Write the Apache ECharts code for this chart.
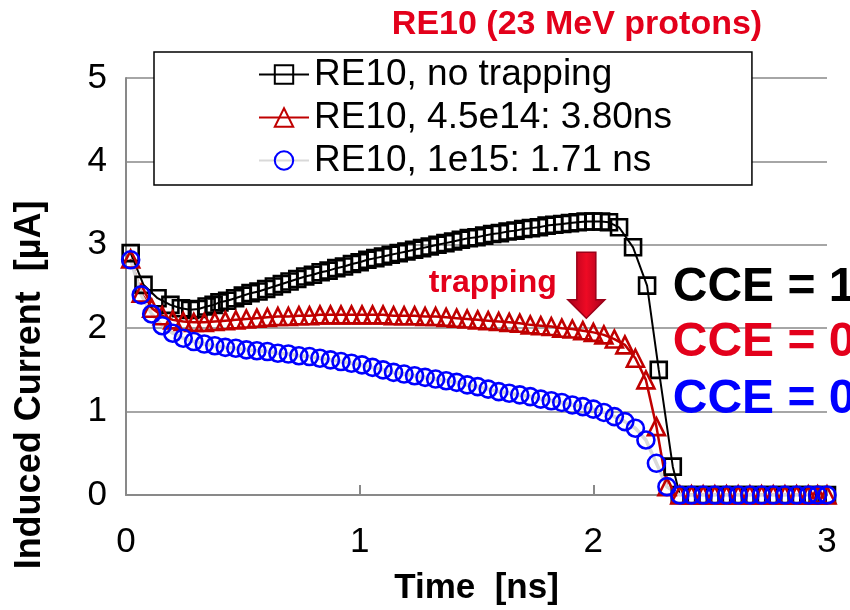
<!DOCTYPE html>
<html><head><meta charset="utf-8">
<script src="https://cdn.jsdelivr.net/npm/echarts@6/dist/echarts.min.js"></script>
<style>html,body{margin:0;padding:0;background:#fff}#c{width:850px;height:610px}</style>
</head><body><div id="c"></div>
<script>
// ---- data ----
const titleText = 'RE10 (23 MeV protons)';
const seriesNames = ['RE10, no trapping', 'RE10, 4.5e14: 3.80ns', 'RE10, 1e15: 1.71 ns'];
const xTicks = [0, 1, 2, 3];
const yTicks = [0, 1, 2, 3, 4, 5];

const tNoTrap = [0.020, 0.075, 0.135, 0.190, 0.235, 0.275, 0.310, 0.345, 0.375,
  0.400, 0.433, 0.467, 0.500, 0.533, 0.567, 0.600, 0.633, 0.667, 0.700,
  0.733, 0.767, 0.800, 0.833, 0.867, 0.900, 0.933, 0.967, 1.000,
  1.033, 1.067, 1.100, 1.133, 1.167, 1.200, 1.233, 1.267, 1.300,
  1.333, 1.367, 1.400, 1.433, 1.467, 1.500, 1.533, 1.567, 1.600,
  1.633, 1.667, 1.700, 1.733, 1.767, 1.800, 1.833, 1.867, 1.900,
  1.933, 1.967, 2.000, 2.033, 2.067,
  2.110, 2.170, 2.230, 2.280, 2.340];
const currNoTrap = [2.90, 2.52, 2.36, 2.28, 2.24, 2.22, 2.23, 2.26, 2.28,
  2.31, 2.33, 2.36, 2.39, 2.42, 2.44, 2.47, 2.50, 2.53, 2.56,
  2.59, 2.62, 2.64, 2.67, 2.69, 2.72, 2.74, 2.77, 2.79,
  2.82, 2.84, 2.86, 2.88, 2.90, 2.92, 2.94, 2.96, 2.98,
  3.00, 3.02, 3.04, 3.06, 3.08, 3.09, 3.11, 3.13, 3.14,
  3.16, 3.17, 3.19, 3.20, 3.21, 3.23, 3.24, 3.25, 3.26,
  3.27, 3.28, 3.28, 3.28, 3.27,
  3.21, 2.97, 2.51, 1.50, 0.34];

const tTrap = [0.020, 0.065, 0.110, 0.155, 0.200, 0.245, 0.290, 0.335, 0.380, 0.425,
  0.470, 0.515, 0.560, 0.605, 0.650, 0.695, 0.740, 0.785, 0.830, 0.875,
  0.920, 0.965, 1.010, 1.055, 1.100, 1.145, 1.190, 1.235, 1.280, 1.325,
  1.370, 1.415, 1.460, 1.505, 1.550, 1.595, 1.640, 1.685, 1.730, 1.775,
  1.820, 1.865, 1.910, 1.955, 2.000, 2.045, 2.090, 2.135, 2.180, 2.225,
  2.270, 2.315];
const curr45e14 = [2.83, 2.42, 2.24, 2.15, 2.10, 2.08, 2.07, 2.07, 2.08, 2.09,
  2.10, 2.11, 2.12, 2.13, 2.14, 2.14, 2.15, 2.15, 2.16, 2.16,
  2.16, 2.16, 2.16, 2.16, 2.16, 2.15, 2.15, 2.15, 2.14, 2.14,
  2.13, 2.12, 2.11, 2.10, 2.09, 2.08, 2.07, 2.06, 2.04, 2.03,
  2.02, 2.00, 1.99, 1.97, 1.95, 1.92, 1.87, 1.80, 1.64, 1.38,
  0.82, 0.10];
const curr1e15 = [2.82, 2.40, 2.17, 2.03, 1.94, 1.88, 1.84, 1.81, 1.79, 1.77,
  1.76, 1.74, 1.73, 1.72, 1.70, 1.69, 1.67, 1.66, 1.64, 1.62,
  1.60, 1.58, 1.56, 1.53, 1.50, 1.47, 1.45, 1.43, 1.41, 1.39,
  1.37, 1.35, 1.32, 1.30, 1.27, 1.24, 1.22, 1.20, 1.18, 1.15,
  1.13, 1.11, 1.08, 1.06, 1.03, 0.99, 0.94, 0.88, 0.80, 0.66,
  0.38, 0.10];

const tTail = [2.37, 2.42, 2.47, 2.52, 2.57, 2.62, 2.67, 2.72, 2.77, 2.82, 2.87, 2.92, 2.96, 3.00];
const tailNoTrap = [0, 0, 0, 0, 0, 0, 0, 0, 0, 0, 0, 0, 0, 0];
const tail45e14 = [0, 0, 0, 0, 0, 0, 0, 0, 0, 0, 0, 0, 0, 0];
const tail1e15 = [0, 0, 0, 0, 0, 0, 0, 0, 0, 0, 0, 0, 0, 0];

// annotations
const trapLabel = 'trapping';
const cceLabels = ['CCE = 1', 'CCE = 0', 'CCE = 0'];
const yAxisTitle = 'Induced Current  [µA]';
const xAxisTitle = 'Time  [ns]';

// ---- chart ----
const FONT = '"Liberation Sans", Arial, Helvetica, sans-serif';
function zip(t, v) { return t.map((x, i) => [x, v[i]]); }

const chart = echarts.init(document.getElementById('c'), null, { renderer: 'canvas' });

function lineSeries(name, data, lineColor, lineWidth, symbol, symColor, size) {
  return {
    name: name, type: 'line', data: data,
    symbol: symbol, symbolSize: size, showSymbol: true, showAllSymbol: true,
    lineStyle: { color: lineColor, width: lineWidth },
    itemStyle: { color: 'rgba(255,255,255,0)', borderColor: symColor, borderWidth: 2.6 },
    emphasis: { disabled: true },
    animation: false
  };
}

chart.setOption({
  animation: false,
  backgroundColor: '#ffffff',
  title: {
    text: titleText, left: 572, top: 3, textAlign: 'center',
    textStyle: { color: '#e3001b', fontSize: 34, fontWeight: 'bold', fontFamily: FONT }
  },
  grid: { left: 126, right: 23, top: 78, bottom: 115, containLabel: false, outerBoundsMode: 'none' },
  legend: {
    orient: 'vertical', left: 154, top: 52,
    backgroundColor: '#ffffff', borderColor: '#000000', borderWidth: 1.5, borderRadius: 0,
    padding: [4, 80, 6, 104],
    itemWidth: 50, itemHeight: 23, itemGap: 6,
    textStyle: { fontSize: 37, color: '#000', fontFamily: FONT, lineHeight: 37 },
    data: seriesNames
  },
  xAxis: {
    type: 'value', min: xTicks[0], max: xTicks[xTicks.length - 1], interval: 1,
    name: xAxisTitle, nameLocation: 'middle', nameGap: 76,
    nameTextStyle: { fontSize: 35, fontWeight: 'bold', color: '#000', fontFamily: FONT },
    axisLine: { lineStyle: { color: '#898989', width: 2 } },
    axisTick: { inside: true, length: 10, lineStyle: { color: '#898989', width: 2 } },
    axisLabel: { fontSize: 35, color: '#000', margin: 30, fontFamily: FONT },
    splitLine: { show: false }
  },
  yAxis: {
    type: 'value', min: yTicks[0], max: yTicks[yTicks.length - 1], interval: 1,
    axisLine: { show: true, lineStyle: { color: '#898989', width: 2 } },
    axisTick: { show: false },
    axisLabel: { fontSize: 35, color: '#000', margin: 19, fontFamily: FONT },
    splitLine: { lineStyle: { color: '#898989', width: 1.5 } }
  },
  series: [
    lineSeries(seriesNames[0], zip(tNoTrap, currNoTrap).concat(zip(tTail, tailNoTrap)), '#000000', 2, 'rect', '#000000', 16),
    lineSeries(seriesNames[1], zip(tTrap, curr45e14).concat(zip(tTail, tail45e14)), '#c00000', 2.5, 'triangle', '#c00000', 17),
    lineSeries(seriesNames[2], zip(tTrap, curr1e15).concat(zip(tTail, tail1e15)), '#d9d9d9', 3.5, 'circle', '#0000ff', 17)
  ]
});

function px(x, y) { return chart.convertToPixel({ gridIndex: 0 }, [x, y]); }
const arrowTop = px(1.97, 2.91), arrowNeck = px(1.97, 2.34), arrowTip = px(1.97, 2.12);
const sw = 9.5, hw = 18.5;
const trapPos = px(1.57, 2.54);
const ccePos = [px(2.34, 2.49), px(2.34, 1.82), px(2.34, 1.14)];
const cceColors = ['#000000', '#e3001b', '#0000ff'];

chart.setOption({
  graphic: [
    {
      type: 'polygon', z: 100,
      shape: { points: [
        [arrowTop[0] - sw, arrowTop[1]], [arrowTop[0] + sw, arrowTop[1]],
        [arrowNeck[0] + sw, arrowNeck[1]], [arrowNeck[0] + hw, arrowNeck[1]],
        [arrowTip[0], arrowTip[1]],
        [arrowNeck[0] - hw, arrowNeck[1]], [arrowNeck[0] - sw, arrowNeck[1]]
      ] },
      style: {
        fill: new echarts.graphic.LinearGradient(0, 0, 1, 0, [
          { offset: 0, color: '#a5001c' }, { offset: 0.5, color: '#ee0a24' }, { offset: 1, color: '#a5001c' }
        ]),
        stroke: '#9a0018', lineWidth: 1.5
      }
    },
    {
      type: 'text', z: 100, x: trapPos[0], y: trapPos[1],
      style: { text: trapLabel, fill: '#e3001b', font: 'bold 32px ' + FONT, align: 'center', verticalAlign: 'middle' }
    },
    ...ccePos.map((p, i) => ({
      type: 'text', z: 100, x: p[0], y: p[1],
      style: { text: cceLabels[i], fill: cceColors[i], font: 'bold 48px ' + FONT, align: 'left', verticalAlign: 'middle' }
    })),
    {
      type: 'text', z: 100, x: 30, y: 385, rotation: Math.PI / 2,
      style: { text: yAxisTitle, fill: '#000', font: 'bold 36px ' + FONT, align: 'center', verticalAlign: 'middle' }
    }
  ]
});
</script>
</body></html>
